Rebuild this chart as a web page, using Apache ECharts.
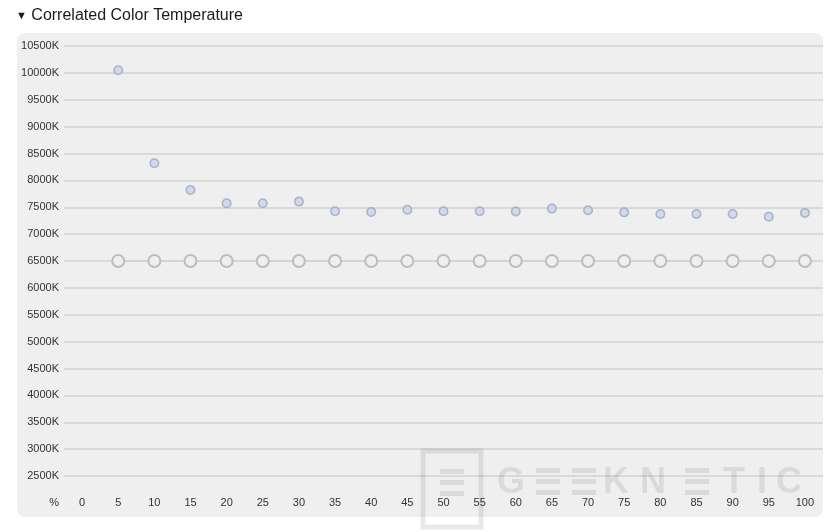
<!DOCTYPE html>
<html>
<head>
<meta charset="utf-8">
<style>
  html, body { margin: 0; padding: 0; background: #ffffff; }
  #chart { width: 829px; height: 532px; }
</style>
<script src="https://cdn.jsdelivr.net/npm/echarts@6/dist/echarts.min.js"></script>
</head>
<body>
<div id="chart"></div>
<script>
// ---- data ----
const brightnessLevels = ['0','5','10','15','20','25','30','35','40','45','50','55','60','65','70','75','80','85','90','95','100'];
const measuredCCT = ['-', 10050, 8320, 7820, 7575, 7575, 7605, 7425, 7410, 7455, 7425, 7425, 7420, 7475, 7445, 7405, 7375, 7375, 7375, 7325, 7395];
const targetCCT = ['-', 6500, 6500, 6500, 6500, 6500, 6500, 6500, 6500, 6500, 6500, 6500, 6500, 6500, 6500, 6500, 6500, 6500, 6500, 6500, 6500];
const yMin = 2500, yMax = 10500, yStep = 500;
const titleText = 'Correlated Color Temperature';
const xUnit = '%';

const chart = echarts.init(document.getElementById('chart'), null, { renderer: 'canvas' });
const FONT = '"Liberation Sans", Arial, sans-serif';
const WM = 'rgba(0,0,0,0.085)';

function eBars(cx, cy) {
  return [0, 1, 2].map(i => ({
    type: 'rect', silent: true, z: 1,
    shape: { x: cx - 12, y: cy - 13 + i * 11, width: 24, height: 5 },
    style: { fill: WM }
  }));
}

const graphics = [
  { type: 'rect', z: -10, silent: true,
    shape: { x: 17, y: 33, width: 806, height: 484, r: 8 },
    style: { fill: '#efefef' } },
  // x unit label, in the y-label column on the category-label row
  { type: 'text', silent: true, z: 5, right: 829 - 59, top: 497,
    style: { text: xUnit, fill: '#333', font: '11px ' + FONT, align: 'right' } },
  // watermark
  { type: 'rect', silent: true, z: 1,
    shape: { x: 423, y: 451, width: 58, height: 76 },
    style: { fill: 'none', stroke: WM, lineWidth: 5 } },
  ...eBars(452, 482),
  { type: 'text', silent: true, z: 1, left: 497, top: 465,
    style: { text: 'G', fill: WM, font: 'bold 36px ' + FONT } },
  ...eBars(548, 481),
  ...eBars(584, 481),
  { type: 'text', silent: true, z: 1, left: 603, top: 465,
    style: { text: 'K', fill: WM, font: 'bold 36px ' + FONT } },
  { type: 'text', silent: true, z: 1, left: 640, top: 465,
    style: { text: 'N', fill: WM, font: 'bold 36px ' + FONT } },
  ...eBars(697, 481),
  { type: 'text', silent: true, z: 1, left: 723, top: 465,
    style: { text: 'T', fill: WM, font: 'bold 36px ' + FONT } },
  { type: 'text', silent: true, z: 1, left: 757, top: 465,
    style: { text: 'I', fill: WM, font: 'bold 36px ' + FONT } },
  { type: 'text', silent: true, z: 1, left: 776, top: 465,
    style: { text: 'C', fill: WM, font: 'bold 36px ' + FONT } }
];

chart.setOption({
  backgroundColor: '#ffffff',
  animation: false,
  title: {
    text: '{tri|▼} ' + titleText,
    left: 11, top: 3,
    textStyle: {
      fontFamily: FONT, fontSize: 16, fontWeight: 'normal', color: '#1a1a1a',
      rich: { tri: { fontSize: 11, color: '#1a1a1a', fontFamily: FONT } }
    }
  },
  graphic: graphics,
  grid: { left: 64, right: 6, top: 46, bottom: 56, containLabel: false },
  xAxis: {
    type: 'category',
    data: brightnessLevels,
    boundaryGap: true,
    axisLine: { show: false },
    axisTick: { show: false },
    axisLabel: { color: '#333', fontSize: 11, fontFamily: FONT, margin: 21, interval: 0 },
    splitLine: { show: false }
  },
  yAxis: {
    type: 'value',
    min: yMin, max: yMax, interval: yStep,
    axisLine: { show: false },
    axisTick: { show: false },
    axisLabel: { color: '#333', fontSize: 11, fontFamily: FONT, margin: 5, formatter: v => v + 'K' },
    splitLine: { show: true, lineStyle: { color: '#d9d9d9', width: 2 } }
  },
  series: [
    {
      name: 'Target',
      type: 'line',
      data: targetCCT,
      symbol: 'circle',
      symbolSize: 12,
      showAllSymbol: true,
      z: 3,
      lineStyle: { color: '#d2d2d2', width: 1.5 },
      itemStyle: { color: '#efefef', borderColor: '#bdbdbd', borderWidth: 2 }
    },
    {
      name: 'Measured',
      type: 'scatter',
      data: measuredCCT,
      symbol: 'circle',
      symbolSize: 8.5,
      z: 4,
      itemStyle: { color: '#c9d3ee', borderColor: '#9ea6b8', borderWidth: 1.5 }
    }
  ]
});
</script>
</body>
</html>
